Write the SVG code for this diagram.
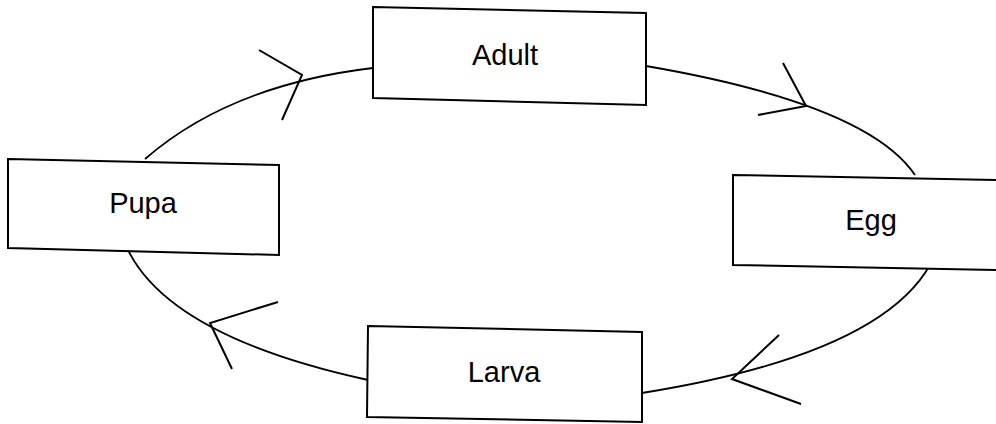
<svg xmlns="http://www.w3.org/2000/svg" width="996" height="424" viewBox="0 0 996 424">
<style>
.box{fill:#fff;stroke:#000;stroke-width:2}
.lbl{font-family:"Liberation Sans",Arial,sans-serif;font-size:29px;fill:#000;text-anchor:middle}
.c{fill:none;stroke:#000;stroke-width:1.8}
.ah{fill:none;stroke:#000;stroke-width:2}
</style>
<rect width="996" height="424" fill="#fff"/>
<g id="connectors">
<path class="c" d="M145,159 Q230,85 373,68"/>
<path class="c" d="M646,66 Q867,104 915,175"/>
<path class="c" d="M930,265 Q879,355 642,393"/>
<path class="c" d="M368,380 Q171,337 128,250"/>
<polyline class="ah" points="259,50 302,75 282,120"/>
<polyline class="ah" points="783,63 806,106 758,115"/>
<polyline class="ah" points="779,335 732,379 801,404"/>
<polyline class="ah" points="278,302 210,323 232,369"/>
</g>
<g id="adult">
<polygon class="box" points="373,7 646,13 646,105 373,98"/>
<text class="lbl" x="505" y="65">Adult</text>
</g>
<g id="egg">
<polygon class="box" points="733,175 1000,180 1000,270 733,265"/>
<text class="lbl" x="871" y="230">Egg</text>
</g>
<g id="larva">
<polygon class="box" points="368,326 642,332 642,422 367,417"/>
<text class="lbl" x="504" y="382">Larva</text>
</g>
<g id="pupa">
<polygon class="box" points="8,159 279,165 279,255 8,248"/>
<text class="lbl" x="143" y="213">Pupa</text>
</g>
</svg>
